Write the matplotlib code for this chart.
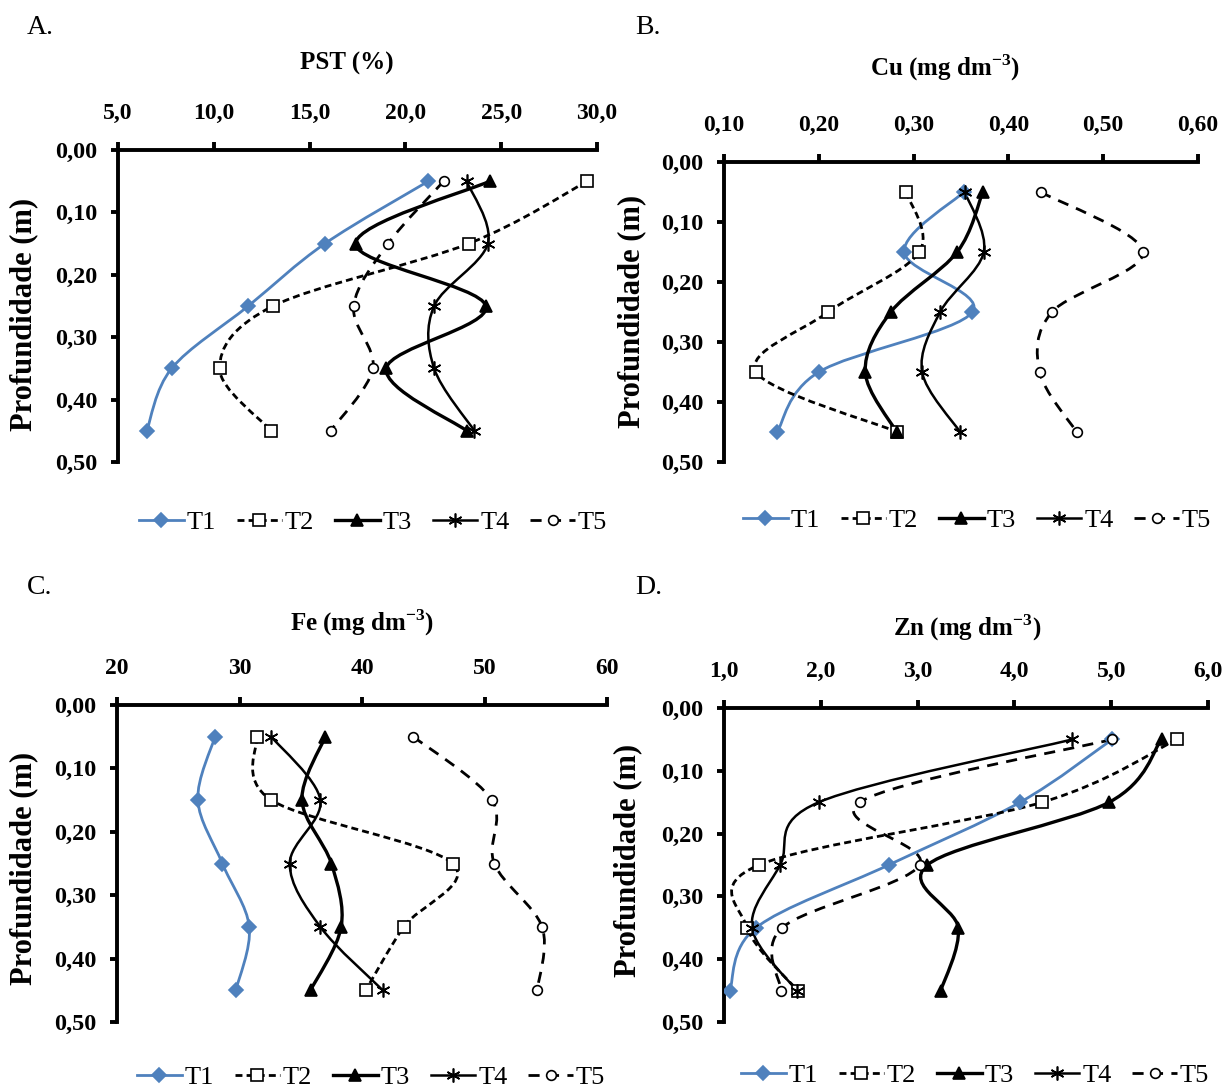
import matplotlib

matplotlib.use("Agg")

import matplotlib.pyplot as plt
from matplotlib.lines import Line2D
from matplotlib.patches import PathPatch
from matplotlib.path import Path


OUTPUT_PATH = "out.png"

W_PX, H_PX = 1227, 1091

DEPTH = [0.05, 0.15, 0.25, 0.35, 0.45]
DEPTH_TICKS = [0.0, 0.1, 0.2, 0.3, 0.4, 0.5]
DEPTH_LABELS = ["0,00", "0,10", "0,20", "0,30", "0,40", "0,50"]
TREATMENTS = ["T1", "T2", "T3", "T4", "T5"]

# A. PST (%)
PST_T1 = [21.2, 15.8, 11.8, 7.8, 6.5]
PST_T2 = [29.5, 23.3, 13.1, 10.3, 13.0]
PST_T3 = [24.4, 17.4, 24.2, 19.0, 23.2]
PST_T4 = [23.2, 24.3, 21.5, 21.5, 23.6]
PST_T5 = [22.0, 19.1, 17.3, 18.3, 16.1]
PST_TICKS = [5, 10, 15, 20, 25, 30]
PST_LABELS = ["5,0", "10,0", "15,0", "20,0", "25,0", "30,0"]

# B. Cu (mg dm-3)
CU_T1 = [0.353, 0.290, 0.362, 0.200, 0.156]
CU_T2 = [0.292, 0.306, 0.210, 0.134, 0.283]
CU_T3 = [0.373, 0.346, 0.276, 0.249, 0.282]
CU_T4 = [0.354, 0.374, 0.328, 0.309, 0.349]
CU_T5 = [0.434, 0.542, 0.446, 0.433, 0.472]
CU_TICKS = [0.1, 0.2, 0.3, 0.4, 0.5, 0.6]
CU_LABELS = ["0,10", "0,20", "0,30", "0,40", "0,50", "0,60"]

# C. Fe (mg dm-3)
FE_T1 = [28.0, 26.6, 28.6, 30.8, 29.7]
FE_T2 = [31.4, 32.6, 47.4, 43.4, 40.3]
FE_T3 = [37.0, 35.1, 37.5, 38.3, 35.8]
FE_T4 = [32.6, 36.6, 34.1, 36.6, 41.7]
FE_T5 = [44.2, 50.6, 50.8, 54.7, 54.3]
FE_TICKS = [20, 30, 40, 50, 60]
FE_LABELS = ["20", "30", "40", "50", "60"]

# D. Zn (mg dm-3)
ZN_T1 = [5.01, 4.06, 2.70, 1.33, 1.06]
ZN_T2 = [5.68, 4.29, 1.36, 1.24, 1.76]
ZN_T3 = [5.52, 4.98, 3.10, 3.42, 3.24]
ZN_T4 = [4.60, 1.98, 1.58, 1.29, 1.75]
ZN_T5 = [5.01, 2.40, 3.02, 1.60, 1.59]
ZN_TICKS = [1, 2, 3, 4, 5, 6]
ZN_LABELS = ["1,0", "2,0", "3,0", "4,0", "5,0", "6,0"]

BLUE = "#4F81BD"

# line / marker look for each treatment (Excel defaults of the original)
STYLES = {
    "T1": dict(color=BLUE, lw=2.0, dashes=None, marker="D", ms=7.5, mfc=BLUE, mec=BLUE),
    "T2": dict(color="black", lw=2.0, dashes=(2.5, 1.5), marker="s", ms=9, mfc="white", mec="black"),
    "T3": dict(color="black", lw=2.4, dashes=None, marker="^", ms=9, mfc="black", mec="black"),
    "T4": dict(color="black", lw=1.8, dashes=None, marker=(6, 2, 0), ms=10, mfc="black", mec="black"),
    "T5": dict(color="black", lw=2.0, dashes=(4, 3), marker="o", ms=7, mfc="white", mec="black"),
}


def px_rect(left, top, right, bottom):
    return [left / W_PX, 1 - bottom / H_PX, (right - left) / W_PX, (bottom - top) / H_PX]


def smooth_path(xs, ys):
    # Excel-like smoothed line: Catmull-Rom turned into cubic Bezier segments
    pts = list(zip(xs, ys))
    n = len(pts)
    verts = [pts[0]]
    codes = [Path.MOVETO]
    for i in range(n - 1):
        p0 = pts[max(i - 1, 0)]
        p1 = pts[i]
        p2 = pts[i + 1]
        p3 = pts[min(i + 2, n - 1)]
        c1 = (p1[0] + (p2[0] - p0[0]) / 6, p1[1] + (p2[1] - p0[1]) / 6)
        c2 = (p2[0] - (p3[0] - p1[0]) / 6, p2[1] - (p3[1] - p1[1]) / 6)
        verts += [c1, c2, p2]
        codes += [Path.CURVE4] * 3
    return Path(verts, codes)


def linestyle(st):
    return "-" if st["dashes"] is None else (0, st["dashes"])


def draw_panel(fig, rect, series, xticks, xlabels, xlim, title, title_xy, letter_xy, ylab_xy, legend_xy):
    ax = fig.add_axes(rect)

    for name, values in zip(TREATMENTS, series):
        st = STYLES[name]
        patch = PathPatch(
            smooth_path(values, DEPTH),
            facecolor="none",
            edgecolor=st["color"],
            linewidth=st["lw"],
            linestyle=linestyle(st),
            capstyle="butt",
        )
        ax.add_patch(patch)
        ax.plot(
            values,
            DEPTH,
            linestyle="none",
            marker=st["marker"],
            markersize=st["ms"],
            markerfacecolor=st["mfc"],
            markeredgecolor=st["mec"],
            markeredgewidth=1.2,
            zorder=3,
        )

    ax.set_xlim(*xlim)
    ax.set_ylim(0.5, 0.0)
    ax.set_facecolor("none")

    ax.xaxis.tick_top()
    ax.set_xticks(xticks)
    ax.set_xticklabels(xlabels, fontweight="bold", fontsize=17)
    ax.set_yticks(DEPTH_TICKS)
    ax.set_yticklabels(DEPTH_LABELS, fontweight="bold", fontsize=17.5)

    ax.tick_params(axis="x", direction="out", length=6, width=2.8, pad=13)
    ax.tick_params(axis="y", direction="out", length=5, width=2.8, pad=10)

    for side in ("bottom", "right"):
        ax.spines[side].set_visible(False)
    for side in ("top", "left"):
        ax.spines[side].set_linewidth(2.8)

    fig.text(title_xy[0] / W_PX, 1 - title_xy[1] / H_PX, title,
             ha="center", va="center", fontsize=18, fontweight="bold")
    fig.text(letter_xy[0] / W_PX, 1 - letter_xy[1] / H_PX, letter_xy[2],
             ha="left", va="center", fontsize=20)
    fig.text(ylab_xy[0] / W_PX, 1 - ylab_xy[1] / H_PX, "Profundidade (m)",
             ha="center", va="center", rotation=90, fontsize=22, fontweight="bold")

    handles = []
    for name in TREATMENTS:
        st = STYLES[name]
        handles.append(Line2D(
            [], [],
            color=st["color"],
            linewidth=st["lw"],
            linestyle=linestyle(st),
            marker=st["marker"],
            markersize=st["ms"],
            markerfacecolor=st["mfc"],
            markeredgecolor=st["mec"],
            markeredgewidth=1.2,
        ))
    fig.legend(
        handles,
        TREATMENTS,
        loc="center",
        bbox_to_anchor=(legend_xy[0] / W_PX, 1 - legend_xy[1] / H_PX),
        ncol=5,
        frameon=False,
        fontsize=19,
        handlelength=1.7,
        handletextpad=0.1,
        columnspacing=0.8,
        borderpad=0,
    )
    return ax


def main() -> None:
    plt.rcParams["font.family"] = ["Liberation Serif", "DejaVu Serif"]
    plt.rcParams["mathtext.fontset"] = "custom"
    plt.rcParams["mathtext.rm"] = "Liberation Serif"
    plt.rcParams["mathtext.bf"] = "Liberation Serif:bold"

    fig = plt.figure(figsize=(W_PX / 100, H_PX / 100), dpi=100)

    draw_panel(
        fig, px_rect(118, 150, 597, 462),
        [PST_T1, PST_T2, PST_T3, PST_T4, PST_T5],
        PST_TICKS, PST_LABELS, (5, 30),
        "PST (%)", (347, 63), (27, 27, "A."), (24, 314), (373, 522),
    )
    draw_panel(
        fig, px_rect(724, 162, 1198, 462),
        [CU_T1, CU_T2, CU_T3, CU_T4, CU_T5],
        CU_TICKS, CU_LABELS, (0.1, 0.6),
        r"Cu (mg dm$^{\mathbf{-3}}$)", (945, 68), (635, 27, "B."), (632, 311), (977, 520),
    )
    draw_panel(
        fig, px_rect(117, 705, 607, 1022),
        [FE_T1, FE_T2, FE_T3, FE_T4, FE_T5],
        FE_TICKS, FE_LABELS, (20, 60),
        r"Fe (mg dm$^{\mathbf{-3}}$)", (362, 623), (27, 588, "C."), (24, 868), (371, 1077),
    )
    draw_panel(
        fig, px_rect(724, 708, 1208, 1022),
        [ZN_T1, ZN_T2, ZN_T3, ZN_T4, ZN_T5],
        ZN_TICKS, ZN_LABELS, (1, 6),
        r"Zn (mg dm$^{\mathbf{-3}}$)", (967, 628), (635, 588, "D."), (628, 860), (975, 1075),
    )

    fig.savefig(OUTPUT_PATH, dpi=100)
    plt.close(fig)


if __name__ == "__main__":
    main()
